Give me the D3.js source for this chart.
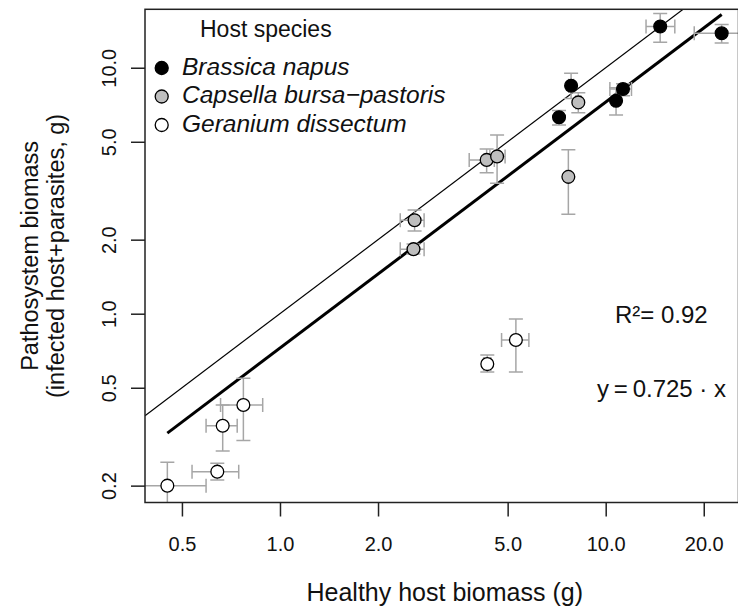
<!DOCTYPE html>
<html>
<head>
<meta charset="utf-8">
<script src="https://cdn.jsdelivr.net/npm/d3@7"></script>
<style>
  html, body { margin: 0; padding: 0; background: #fff; }
  svg { display: block; }
  text { font-family: "Liberation Sans", Arial, sans-serif; fill: #111; }
</style>
</head>
<body>
<div id="chart"></div>
<script>
// Host species and their point fills
const species = ["Brassica napus", "Capsella bursa\u2212pastoris", "Geranium dissectum"];
const speciesFill = ["#000000", "#bebebe", "#ffffff"];

// One entry per host line: species index, healthy host biomass (g), pathosystem biomass (g)
const speciesIdx = [0, 0, 0, 0, 0, 0, 1, 1, 1, 1, 1, 1, 2, 2, 2, 2, 2, 2];
const healthy    = [14.7, 22.7, 7.83, 7.19, 11.3, 10.76, 8.24, 4.31, 4.64, 7.68, 2.59, 2.57, 5.30, 4.33, 0.772, 0.667, 0.642, 0.451];
const pathosys   = [14.7, 13.8, 8.45, 6.29, 8.19, 7.34, 7.23, 4.22, 4.36, 3.60, 2.40, 1.83, 0.782, 0.624, 0.4255, 0.3505, 0.228, 0.200];

// Error bar limits (mean ± s.e.)
const healthyLo  = [13.3, 18.7, 7.70, 7.05, 10.3, 10.6, 8.10, 3.81, 4.41, 7.60, 2.34, 2.34, 4.79, 4.22, 0.657, 0.593, 0.537, 0.30];
const healthyHi  = [16.3, 27.0, 7.97, 7.33, 12.0, 10.9, 8.40, 4.55, 4.91, 7.76, 2.77, 2.77, 5.81, 4.44, 0.885, 0.739, 0.747, 0.593];
const pathosysLo = [12.7, 12.6, 7.50, 5.85, 7.70, 6.42, 6.56, 3.74, 3.39, 2.54, 2.17, 1.75, 0.58, 0.58, 0.305, 0.2767, 0.211, 0.16];
const pathosysHi = [16.6, 15.0, 9.50, 6.70, 8.60, 8.30, 7.91, 4.67, 5.33, 4.64, 2.64, 1.92, 0.952, 0.68, 0.546, 0.4255, 0.2465, 0.249];

// Axis ticks
const xTicks = [0.5, 1, 2, 5, 10, 20];
const yTicks = [0.2, 0.5, 1, 2, 5, 10];

// Regression through the origin and the 1:1 reference
const slope = 0.725;
const rSquared = 0.92;

const W = 738, H = 610;
const plot = { left: 145, right: 738.5, top: 9.3, bottom: 502.5 };
const xDomain = [0.3851, 25.57];
const yDomain = [0.1708, 17.28];

const svg = d3.select("#chart").append("svg")
  .attr("width", W).attr("height", H);

const x = d3.scaleLog().domain(xDomain).range([plot.left, plot.right]);
const y = d3.scaleLog().domain(yDomain).range([plot.bottom, plot.top]);

svg.append("defs").append("clipPath").attr("id", "plotClip")
  .append("rect")
  .attr("x", plot.left).attr("y", plot.top)
  .attr("width", plot.right - plot.left).attr("height", plot.bottom - plot.top);

const data = healthy.map((h, i) => ({
  s: speciesIdx[i], x: h, y: pathosys[i],
  xlo: healthyLo[i], xhi: healthyHi[i], ylo: pathosysLo[i], yhi: pathosysHi[i]
}));

const g = svg.append("g").attr("clip-path", "url(#plotClip)");

// 1:1 line across the whole panel
g.append("line")
  .attr("x1", x(xDomain[0])).attr("y1", y(xDomain[0]))
  .attr("x2", x(xDomain[1])).attr("y2", y(xDomain[1]))
  .attr("stroke", "#000").attr("stroke-width", 1.2);

// fitted line over the observed range
const xMinObs = d3.min(healthy), xMaxObs = d3.max(healthy);
g.append("line")
  .attr("x1", x(xMinObs)).attr("y1", y(slope * xMinObs))
  .attr("x2", x(xMaxObs)).attr("y2", y(slope * xMaxObs))
  .attr("stroke", "#000").attr("stroke-width", 3);

// error bars
const cap = 7;
const eb = g.append("g").attr("stroke", "#a6a6a6").attr("stroke-width", 1.5).attr("fill", "none");
data.forEach(d => {
  const cx = x(d.x), cy = y(d.y);
  // horizontal
  eb.append("line").attr("x1", x(d.xlo)).attr("x2", x(d.xhi)).attr("y1", cy).attr("y2", cy);
  eb.append("line").attr("x1", x(d.xlo)).attr("x2", x(d.xlo)).attr("y1", cy - cap).attr("y2", cy + cap);
  eb.append("line").attr("x1", x(d.xhi)).attr("x2", x(d.xhi)).attr("y1", cy - cap).attr("y2", cy + cap);
  // vertical
  eb.append("line").attr("x1", cx).attr("x2", cx).attr("y1", y(d.ylo)).attr("y2", y(d.yhi));
  eb.append("line").attr("x1", cx - cap).attr("x2", cx + cap).attr("y1", y(d.ylo)).attr("y2", y(d.ylo));
  eb.append("line").attr("x1", cx - cap).attr("x2", cx + cap).attr("y1", y(d.yhi)).attr("y2", y(d.yhi));
});

// points
g.append("g").selectAll("circle").data(data).join("circle")
  .attr("cx", d => x(d.x)).attr("cy", d => y(d.y)).attr("r", 6.4)
  .attr("fill", d => speciesFill[d.s])
  .attr("stroke", "#000").attr("stroke-width", 1.3);

// frame
svg.append("rect")
  .attr("x", plot.left).attr("y", plot.top)
  .attr("width", plot.right - plot.left).attr("height", plot.bottom - plot.top)
  .attr("fill", "none").attr("stroke", "#222").attr("stroke-width", 1.5);

// x axis
const xAxis = svg.append("g").attr("transform", `translate(0,${plot.bottom})`)
  .call(d3.axisBottom(x).tickValues(xTicks).tickFormat(d3.format(".1f")).tickSize(14).tickPadding(0));
xAxis.select(".domain").remove();
xAxis.selectAll(".tick line").attr("stroke", "#222").attr("stroke-width", 1.5);
xAxis.selectAll(".tick text").attr("font-size", 20).attr("dy", null).attr("y", 48.5)
  .attr("font-family", "Liberation Sans, Arial, sans-serif").attr("fill", "#111");

// y axis
const yAxis = svg.append("g").attr("transform", `translate(${plot.left},0)`)
  .call(d3.axisLeft(y).tickValues(yTicks).tickFormat(d3.format(".1f")).tickSize(14).tickPadding(0));
yAxis.select(".domain").remove();
yAxis.selectAll(".tick line").attr("stroke", "#222").attr("stroke-width", 1.5);
yAxis.selectAll(".tick text")
  .attr("font-size", 20).attr("x", null).attr("dy", null)
  .attr("text-anchor", "middle")
  .attr("transform", "translate(-29.5,0) rotate(-90)")
  .attr("font-family", "Liberation Sans, Arial, sans-serif").attr("fill", "#111");

// axis titles
svg.append("text")
  .attr("x", (plot.left + plot.right) / 2 + 3).attr("y", 601)
  .attr("text-anchor", "middle").attr("font-size", 25)
  .text("Healthy host biomass (g)");

const yMid = (plot.top + plot.bottom) / 2;
svg.append("text")
  .attr("transform", `translate(38,${yMid}) rotate(-90)`)
  .attr("text-anchor", "middle").attr("font-size", 23.5)
  .text("Pathosystem biomass");
svg.append("text")
  .attr("transform", `translate(64,${yMid}) rotate(-90)`)
  .attr("text-anchor", "middle").attr("font-size", 23.5)
  .text("(infected host+parasites, g)");

// legend
const legend = svg.append("g");
legend.append("text").attr("x", 200).attr("y", 37).attr("font-size", 23).text("Host species");
const legendRows = [74.5, 103, 131.5];
species.forEach((name, i) => {
  legend.append("circle")
    .attr("cx", 161.7).attr("cy", legendRows[i] - 6.5).attr("r", 6.5)
    .attr("fill", speciesFill[i]).attr("stroke", "#000").attr("stroke-width", 1.3);
  legend.append("text")
    .attr("x", 182).attr("y", legendRows[i])
    .attr("font-size", 24.5).attr("font-style", "italic")
    .text(name);
});

// fit statistics
svg.append("text").attr("x", 615).attr("y", 323).attr("font-size", 24)
  .text(`R\u00b2= ${rSquared.toFixed(2)}`);
svg.append("text").attr("x", 597).attr("y", 396.5).attr("font-size", 24)
  .text(`y\u2009=\u2009${slope.toFixed(3)} \u00b7 x`);
</script>
</body>
</html>
